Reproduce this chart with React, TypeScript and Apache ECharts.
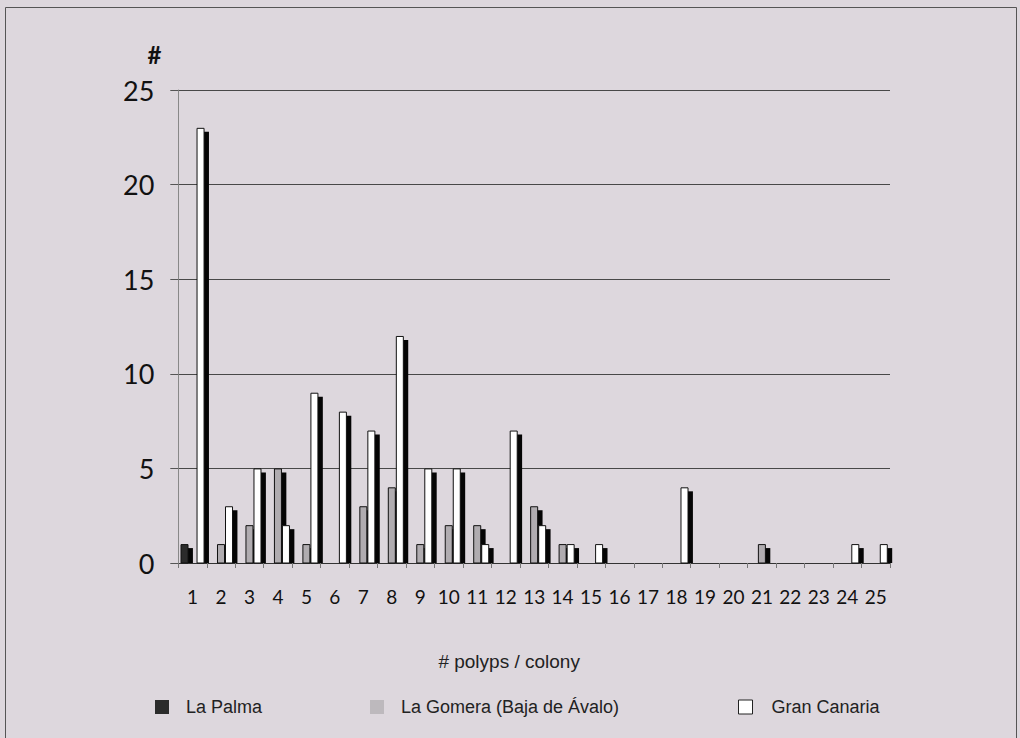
import React, { useEffect, useRef } from "react";
import * as echarts from "echarts";

const categories = ["1","2","3","4","5","6","7","8","9","10","11","12","13","14","15","16","17","18","19","20","21","22","23","24","25"];
const laPalma = [1,0,0,0,0,0,0,0,0,0,0,0,0,0,0,0,0,0,0,0,0,0,0,0,0];
const laGomera = [0,1,2,5,1,0,3,4,1,2,2,0,3,1,0,0,0,0,0,0,1,0,0,0,0];
const granCanaria = [23,3,5,2,9,8,7,12,5,5,1,7,2,1,1,0,0,4,0,0,0,0,0,1,1];
const yTicks = [0, 5, 10, 15, 20, 25];

const BG = "#ddd7dd";
const AXIS_FONT = "Lato, 'Open Sans', sans-serif";
const TEXT_FONT = "'Liberation Sans', Arial, sans-serif";

function makeSeries(name: string, values: number[], slot: number, fill: string) {
  return {
    type: "custom",
    name,
    data: values.map((v, i) => [i, v]),
    encode: { x: 0, y: 1 },
    itemStyle: { color: fill, borderColor: "#000", borderWidth: 1 },
    z: 2,
    renderItem: (params: any, api: any) => {
      const idx = api.value(0);
      const v = api.value(1);
      if (!v) return null;
      const base = api.coord([idx, 0]);
      const top = api.coord([idx, v]);
      const cw = api.size([1, 0])[0];
      const groupW = cw * 0.845;
      const bw = groupW / 3;
      const x0 = base[0] - groupW / 2 + slot * bw;
      const h = base[1] - top[1];
      return {
        type: "group",
        children: [
          {
            type: "rect",
            shape: { x: x0 + 4.4, y: top[1] + 4, width: bw, height: Math.max(0, h - 4) },
            style: { fill: "#050505" },
          },
          {
            type: "rect",
            shape: { x: x0 + 0.5, y: top[1] + 0.5, width: bw - 1, height: h - 0.5 },
            style: { fill, stroke: "#111", lineWidth: 1 },
          },
        ],
      };
    },
  };
}

export default function App() {
  const ref = useRef<HTMLDivElement>(null);
  useEffect(() => {
    if (!ref.current) return;
    const chart = echarts.init(ref.current, null, { renderer: "svg" });
    const legendText = { fontFamily: TEXT_FONT, fontSize: 18, color: "#222", padding: [0, 0, 0, 12] };
    chart.setOption({
      animation: false,
      backgroundColor: BG,
      grid: { left: 178.3, right: 130, top: 90, bottom: 175, containLabel: false },
      xAxis: {
        type: "category",
        data: categories,
        boundaryGap: true,
        name: "# polyps / colony",
        nameLocation: "middle",
        nameGap: 89,
        nameTextStyle: { fontFamily: TEXT_FONT, fontSize: 19, color: "#222", padding: [0, 50, 0, 0] },
        axisLine: { lineStyle: { color: "#333", width: 1 } },
        axisTick: { show: true, length: 5, lineStyle: { color: "#777" } },
        axisLabel: { fontFamily: AXIS_FONT, fontSize: 19, color: "#111", margin: 24, interval: 0 },
        splitLine: { show: false },
      },
      yAxis: {
        type: "value",
        min: 0,
        max: 25,
        interval: 5,
        name: "#",
        nameLocation: "end",
        nameGap: 24,
        nameTextStyle: { fontFamily: AXIS_FONT, fontSize: 24, fontWeight: "bold", color: "#111", align: "right", padding: [0, 17, 0, 0] },
        axisLine: { show: true, lineStyle: { color: "#888", width: 1 } },
        axisTick: { show: true, length: 8, lineStyle: { color: "#555" } },
        axisLabel: {
          fontFamily: AXIS_FONT,
          fontSize: 27,
          color: "#111",
          margin: 24,
          formatter: (v: number) => (yTicks.indexOf(v) >= 0 ? String(v) : ""),
        },
        splitLine: { show: true, lineStyle: { color: "#484848", width: 1 } },
      },
      legend: [
        {
          left: 150, top: 693, itemWidth: 14, itemHeight: 14, icon: "rect",
          data: [{ name: "La Palma", itemStyle: { color: "#2b2b2b", borderWidth: 0 } }],
          textStyle: legendText,
        },
        {
          left: 365, top: 693, itemWidth: 14, itemHeight: 14, icon: "rect",
          data: [{ name: "La Gomera (Baja de Ávalo)", itemStyle: { color: "#bdb9bd", borderWidth: 0 } }],
          textStyle: legendText,
        },
        {
          left: 733, top: 693, itemWidth: 14, itemHeight: 14, icon: "rect",
          data: [{ name: "Gran Canaria", itemStyle: { color: "#ffffff", borderColor: "#222", borderWidth: 1 } }],
          textStyle: { ...legendText, padding: [0, 0, 0, 14] },
        },
      ],
      graphic: [
        {
          type: "rect",
          left: 3, top: 5,
          shape: { x: 0, y: 0, width: 1011, height: 740 },
          style: { fill: "none", stroke: "#555", lineWidth: 1 },
          silent: true,
        },
      ],
      series: [
        makeSeries("La Palma", laPalma, 0, "#2b2b2b"),
        makeSeries("La Gomera (Baja de Ávalo)", laGomera, 1, "#b0acb0"),
        makeSeries("Gran Canaria", granCanaria, 2, "#ffffff"),
      ],
    });
    return () => chart.dispose();
  }, []);
  return <div ref={ref} style={{ position: "fixed", left: 0, top: 0, width: 1020, height: 738 }} />;
}
